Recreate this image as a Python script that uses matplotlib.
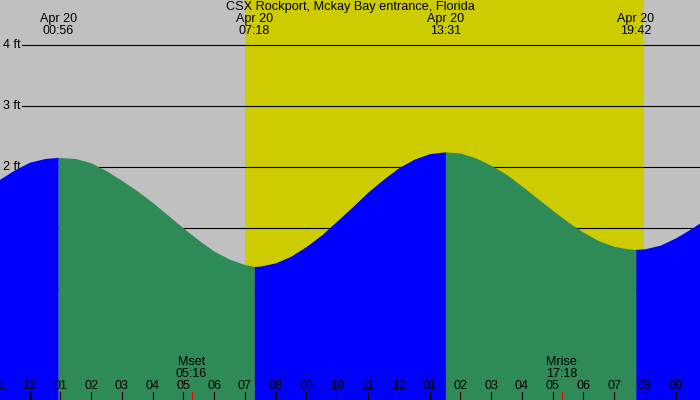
import numpy as np
import matplotlib.pyplot as plt
from matplotlib.transforms import blended_transform_factory

plt.rcParams['font.family'] = ['Liberation Sans', 'DejaVu Sans']

title = "CSX Rockport, Mckay Bay entrance, Florida"

# tide height (ft), hours from midnight Apr 20
hours = [-1, -0.5, 0, 0.5, 0.933,
         1.5, 2, 2.5, 3, 3.5, 4, 4.5, 5, 5.5, 6, 6.5, 7, 7.3,
         7.5, 8, 8.5, 9, 9.5, 10, 10.5, 11, 11.5, 12, 12.5, 13, 13.517,
         14, 14.5, 15, 15.5, 16, 16.5, 17, 17.5, 18, 18.5, 19, 19.5, 19.7,
         20, 20.5, 21, 21.5, 22]
heights = [1.79, 1.95, 2.08, 2.14, 2.16,
           2.14, 2.07, 1.94, 1.78, 1.61, 1.42, 1.21, 1.00, 0.80, 0.62, 0.49, 0.40, 0.37,
           0.375, 0.43, 0.54, 0.70, 0.89, 1.12, 1.35, 1.59, 1.80, 1.99, 2.13, 2.22, 2.25,
           2.23, 2.15, 2.03, 1.88, 1.69, 1.49, 1.29, 1.10, 0.93, 0.79, 0.70, 0.655, 0.65,
           0.66, 0.72, 0.84, 0.99, 1.16]

# high / low tides
ext_hours = [0.933, 7.3, 13.517, 19.7]
ext_labels = ["00:56", "07:18", "13:31", "19:42"]
ext_date = "Apr 20"

sunrise = 7.0
sunset = 19.97

moon_hours = [5.267, 17.3]
moon_names = ["Mset", "Mrise"]
moon_times = ["05:16", "17:18"]

gray = '#c0c0c0'
yellow = '#cccc00'
blue = '#0000ff'
green = '#2e8b57'

fig = plt.figure(figsize=(7, 4), dpi=100)
ax = fig.add_axes([0, 0, 1, 1])
ax.set_xlim(-0.959, 21.79)
ax.set_ylim(-1.82, 4.74)
ax.axis('off')
ax.add_patch(plt.Rectangle((0, 0), 1, 1, transform=ax.transAxes, color=gray, zorder=0))
ax.axvspan(sunrise, sunset, color=yellow, zorder=1, lw=0)

# level lines
for ft in range(5):
    ax.axhline(ft, xmin=22 / 700, xmax=1, color='black', lw=0.8, zorder=2)
    ax.text(3 / 700, ft, f"{ft} ft", transform=blended_transform_factory(ax.transAxes, ax.transData),
            ha='left', va='center', fontsize=9, zorder=2)

# tide fill: blue rising, green falling
t = np.array(hours)
h = np.array(heights)
bounds = [t[0]] + ext_hours + [t[-1]]
for i in range(len(bounds) - 1):
    m = (t >= bounds[i]) & (t <= bounds[i + 1])
    c = blue if i % 2 == 0 else green
    ax.fill_between(t[m], -2, h[m], color=c, lw=0, zorder=3)

tr = blended_transform_factory(ax.transData, ax.transAxes)

# extremes labels
for x, lab in zip(ext_hours, ext_labels):
    ax.text(x, 1 - 19 / 400, ext_date, transform=tr, ha='center', va='center', fontsize=9, zorder=5)
    ax.text(x, 1 - 31 / 400, lab, transform=tr, ha='center', va='center', fontsize=9, zorder=5)

ax.text(0.5, 1 - 7 / 400, title, transform=ax.transAxes, ha='center', va='center', fontsize=9.2, zorder=5)

# hour ticks
for hr in range(-1, 22):
    lw = 2.2 if hr == 0 else 0.8
    ax.plot([hr, hr], [0, 8 / 400], transform=tr, color='black', lw=lw, zorder=5, clip_on=False)
    ax.text(hr, 1 - 386 / 400, f"{(hr % 12) or 12:02d}", transform=tr,
            ha='center', va='center', fontsize=9, zorder=5)

# moon
for x, name, tm in zip(moon_hours, moon_names, moon_times):
    ax.plot([x, x], [0, 8 / 400], transform=tr, color='red', lw=0.8, zorder=6)
    ax.text(x, 1 - 362 / 400, name, transform=tr, ha='center', va='center', fontsize=9, zorder=5)
    ax.text(x, 1 - 374 / 400, tm, transform=tr, ha='center', va='center', fontsize=9, zorder=5)

fig.savefig('out.png', dpi=100)
